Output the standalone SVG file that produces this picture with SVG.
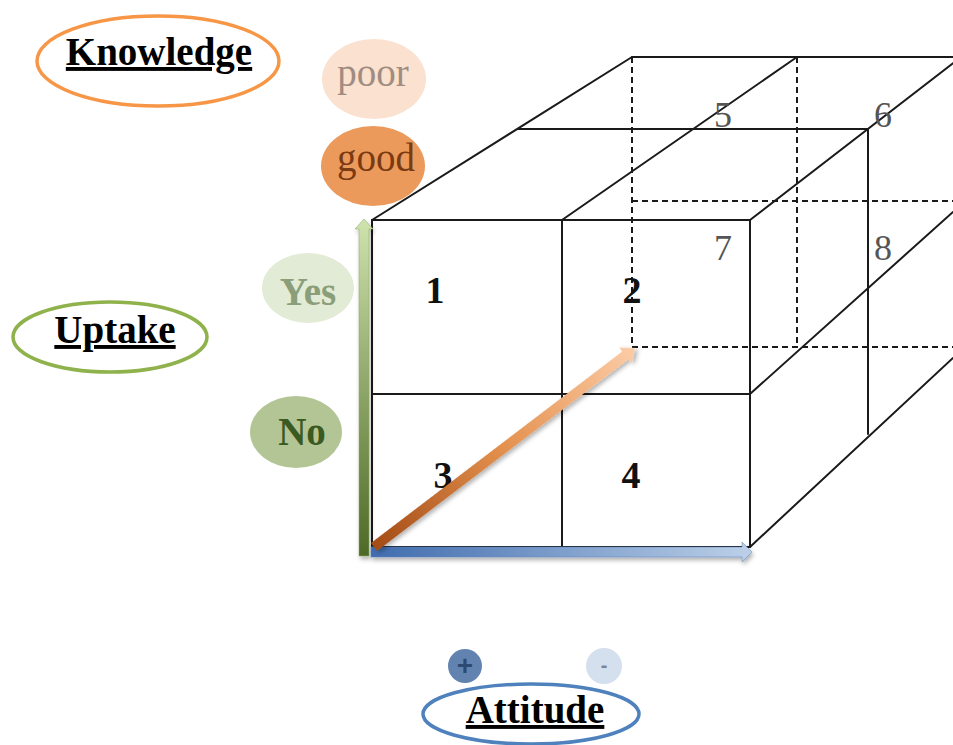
<svg xmlns="http://www.w3.org/2000/svg" width="953" height="745" viewBox="0 0 953 745">
<style>
.ln{stroke:#1a1a1a;stroke-width:2;fill:none;stroke-linecap:round}
.ds{stroke:#1a1a1a;stroke-width:2;fill:none;stroke-dasharray:6,4}
.ttl{font-family:"Liberation Serif",serif;font-weight:bold;font-size:39px;fill:#000;text-anchor:middle;text-decoration:underline}
.lbl{font-family:"Liberation Serif",serif;font-size:39px;text-anchor:middle}
.bn{font-family:"Liberation Serif",serif;font-weight:bold;font-size:38px;fill:#111;text-anchor:middle}
.ln2{font-family:"Liberation Serif",serif;font-size:36px;fill:#555;text-anchor:middle}
</style>
<defs>
<linearGradient id="gGreen" x1="0" y1="0" x2="0" y2="1">
<stop offset="0" stop-color="#cfe3ad"/><stop offset="1" stop-color="#4d6a27"/>
</linearGradient>
<linearGradient id="gBlue" x1="0" y1="0" x2="1" y2="0">
<stop offset="0" stop-color="#406cae"/><stop offset="1" stop-color="#bcd0e8"/>
</linearGradient>
<linearGradient id="gOrange" x1="0" y1="0" x2="1" y2="0">
<stop offset="0" stop-color="#a34c16"/><stop offset="0.5" stop-color="#e4914f"/><stop offset="1" stop-color="#fcccA6"/>
</linearGradient>
<filter id="sh" x="-10%" y="-10%" width="130%" height="140%">
<feDropShadow dx="1.5" dy="3" stdDeviation="2" flood-color="#000" flood-opacity="0.3"/>
</filter>
</defs>
<rect width="953" height="745" fill="#fff"/>

<g id="cube">
<!-- back dashed -->
<line class="ds" x1="632" y1="57" x2="632" y2="347"/>
<line class="ds" x1="797" y1="57" x2="797" y2="347"/>
<line class="ds" x1="632" y1="201" x2="953" y2="201"/>
<line class="ds" x1="632" y1="347" x2="953" y2="347"/>
<!-- top face -->
<line class="ln" x1="632" y1="57" x2="953" y2="57"/>
<line class="ln" x1="518" y1="129" x2="868" y2="129"/>
<line class="ln" x1="372" y1="220" x2="632" y2="57"/>
<line class="ln" x1="562" y1="220" x2="797" y2="57"/>
<line class="ln" x1="750" y1="220" x2="961" y2="57"/>
<!-- right side -->
<line class="ln" x1="868" y1="129" x2="868" y2="434"/>
<line class="ln" x1="750" y1="394" x2="953" y2="212"/>
<line class="ln" x1="750" y1="547" x2="953" y2="358"/>
<!-- front face -->
<rect class="ln" x="372" y="220" width="378" height="327"/>
<line class="ln" x1="562" y1="220" x2="562" y2="547"/>
<line class="ln" x1="372" y1="394" x2="750" y2="394"/>
</g>

<g id="cell-labels">
<text class="ln2" x="723" y="127">5</text>
<text class="ln2" x="883" y="127">6</text>
<text class="ln2" x="723" y="260">7</text>
<text class="ln2" x="883" y="260">8</text>
<text class="bn" x="435" y="303">1</text>
<text class="bn" x="632" y="303">2</text>
<text class="bn" x="443" y="488">3</text>
<text class="bn" x="631" y="488">4</text>
</g>

<g id="connectors">
<polygon id="arrow-uptake" filter="url(#sh)" fill="url(#gGreen)" stroke="#8aa860" stroke-width="0.5" points="359,556 359,229 355,229 364,219 373,229 369,229 369,556"/>
<polygon id="arrow-attitude" filter="url(#sh)" fill="url(#gBlue)" stroke="#5b83bd" stroke-width="0.5" points="371,547 742,547 742,542 752,552 742,562 742,557 371,557"/>
<g id="arrow-knowledge" transform="translate(374,547) rotate(-37.3)" filter="url(#sh)">
<polygon fill="url(#gOrange)" points="0,-5 316,-5 316,-10 328,0 316,10 316,5 0,5"/>
</g>
</g>

<g id="knowledge">
<ellipse cx="158" cy="61" rx="121" ry="45" fill="none" stroke="#f79646" stroke-width="3.5"/>
<text class="ttl" x="159" y="65">Knowledge</text>
</g>
<g id="poor">
<ellipse cx="374" cy="79" rx="52" ry="40" fill="#fbe1cf"/>
<text class="lbl" x="373" y="86" fill="#a08c80">poor</text>
</g>
<g id="good">
<ellipse cx="373" cy="166" rx="52" ry="40" fill="#ec9a5c"/>
<text class="lbl" x="376" y="171" fill="#7a3a12">good</text>
</g>
<g id="uptake">
<ellipse cx="110" cy="337" rx="97" ry="35" fill="none" stroke="#8fb24c" stroke-width="3.5"/>
<text class="ttl" x="115" y="343">Uptake</text>
</g>
<g id="yes">
<ellipse cx="308" cy="288" rx="46" ry="35" fill="#e2ebd5"/>
<text class="lbl" x="308" y="305" font-weight="bold" fill="#8b9e7a">Yes</text>
</g>
<g id="no">
<ellipse cx="296" cy="432" rx="46" ry="36" fill="#b3c595"/>
<text class="lbl" x="302" y="445" font-weight="bold" fill="#3b5a22">No</text>
</g>
<g id="attitude">
<ellipse cx="531" cy="714" rx="108" ry="30" fill="none" stroke="#4f81bd" stroke-width="3.5"/>
<text class="ttl" x="535" y="723">Attitude</text>
</g>
<g id="plus">
<circle cx="465" cy="666" r="17" fill="#6283b0"/>
<text x="465" y="675" font-family="Liberation Sans,sans-serif" font-size="28" font-weight="bold" fill="#2e4a70" text-anchor="middle">+</text>
</g>
<g id="minus">
<circle cx="604" cy="666" r="18" fill="#d5e0ef"/>
<text x="604" y="672" font-family="Liberation Sans,sans-serif" font-size="20" font-weight="bold" fill="#7a8592" text-anchor="middle">-</text>
</g>
</svg>
